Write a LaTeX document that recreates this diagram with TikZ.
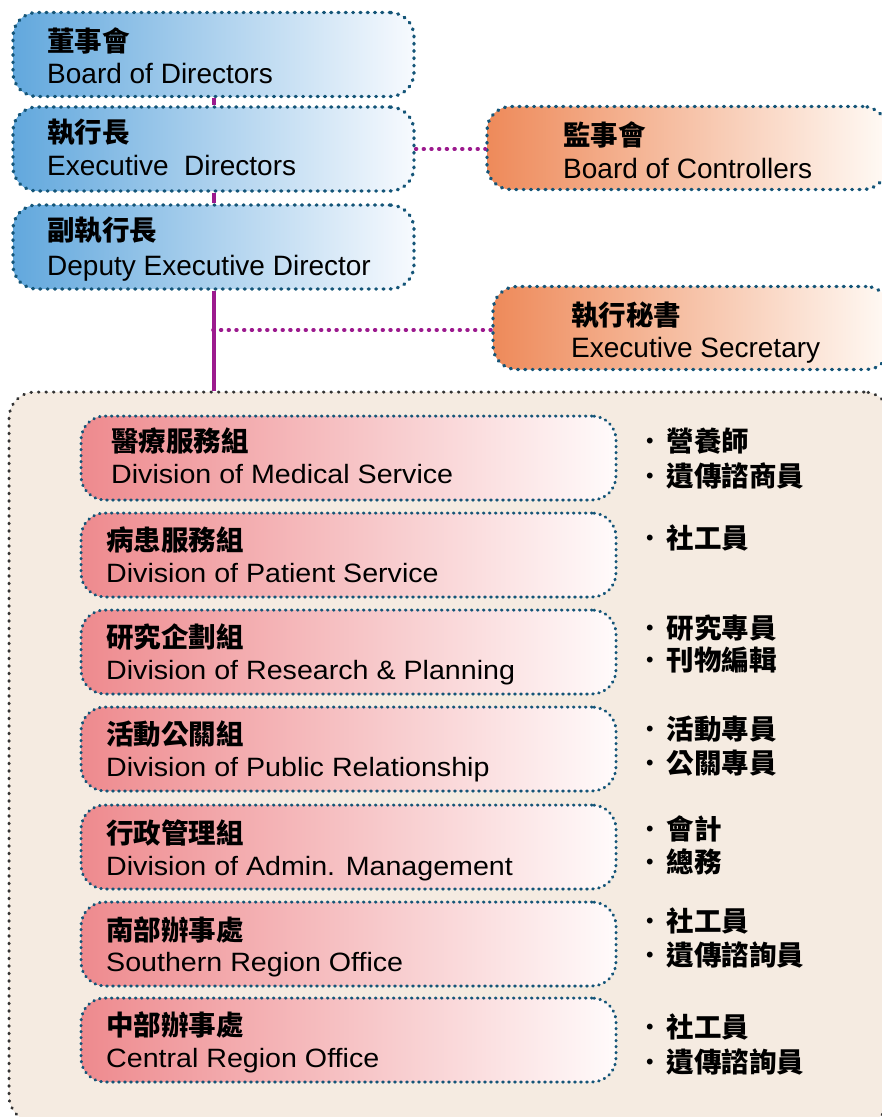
\documentclass[tikz,border=0pt]{standalone}
\usepackage{fontspec}
\setmainfont{Liberation Sans}
\newfontfamily\cjk{Noto Sans CJK TC}
\newfontfamily\enw{Liberation Sans}[FakeStretch=1.08]
\definecolor{dotblue}{HTML}{145578}
\definecolor{dotgray}{HTML}{333333}
\definecolor{blueL}{HTML}{62A8DD}
\definecolor{blueR}{HTML}{F7FAFE}
\definecolor{orangeL}{HTML}{EE8A5A}
\definecolor{orangeR}{HTML}{FFFAF5}
\definecolor{pinkL}{HTML}{EE8A8E}
\definecolor{pinkR}{HTML}{FFFBFB}
\definecolor{beige}{HTML}{F5EBE1}
\definecolor{purp}{HTML}{9C1A8E}
\tikzset{
  dotbox/.style={draw=dotblue, line width=3.4pt, dash pattern=on 0.8pt off 6.5pt, line cap=round, rounded corners=24pt, inner sep=0pt},
  bluebox/.style={dotbox, left color=blueL, right color=blueR, minimum width=401pt, minimum height=84pt},
  orangebox/.style={dotbox, left color=orangeL, right color=orangeR, minimum height=83pt},
  pinkbox/.style={dotbox, line width=3pt, dash pattern=on 0.6pt off 5.4pt, left color=pinkL, right color=pinkR, minimum width=535pt, minimum height=84pt},
  container/.style={draw=dotgray, line width=3pt, dash pattern=on 0.6pt off 6.9pt, line cap=round, rounded corners=26pt, fill=beige, inner sep=0pt},
  zh/.style={font=\cjk\bfseries\fontsize{27.5}{30}\selectfont, anchor=west, inner sep=0pt},
  en/.style={font=\fontsize{28}{30}\selectfont, anchor=base west, inner sep=0pt},
  enp/.style={font=\enw\fontsize{26.5}{30}\selectfont, anchor=base west, inner sep=0pt},
  vline/.style={draw=purp, line width=4pt},
  pdot/.style={draw=purp, line width=3.6pt, dash pattern=on 0.8pt off 6.9pt, line cap=round},
}
\newcommand{\bul}[1]{{\mdseries ・}\kern3pt #1}
\begin{document}
\begin{tikzpicture}[x=1pt,y=-1pt]
\useasboundingbox (0,0) rectangle (882,1117);
\clip (0,0) rectangle (882,1117);
\fill[white] (0,0) rectangle (882,1117);

% container
\node[container, minimum width=881pt, minimum height=730pt] (cont) at (449.5,757) {};

% top boxes
\node[bluebox] (b1) at (213.5,54.5) {};
\node[bluebox] (b2) at (213.5,149) {};
\node[bluebox] (b3) at (213.5,247) {};
\node[orangebox, minimum width=400pt] (o1) at (687,148) {};
\node[orangebox, minimum width=397pt] (o2) at (691.5,328) {};

% connectors
\coordinate (j) at (213,330);
\draw[vline] (b1.south) -- (b2.north);
\draw[vline] (b2.south) -- (b3.north);
\draw[vline] (b3.south) -- (b3.south |- cont.north);
\draw[pdot] (b2.east) -- (b2.east -| o1.west);
\draw[pdot] (j) -- (j -| o2.west);

% top texts
\node[zh] (b1z) at (47,41) {董事會};
\node[en] (b1e) at (47,83) {Board of Directors};
\node[zh] (b2z) at (47,132.5) {執行長};
\node[en] (b2e) at (47,175) {Executive\ \ Directors};
\node[zh] (b3z) at (47,230.5) {副執行長};
\node[en] (b3e) at (47,275) {Deputy Executive Director};
\node[zh] (o1z) at (563,135) {監事會};
\node[en] (o1e) at (563,178) {Board of Controllers};
\node[zh] (o2z) at (571,315) {執行秘書};
\node[en] (o2e) at (571,357) {Executive Secretary};

% division boxes
\node[pinkbox] (d1) at (348.5,458) {};
\node[pinkbox] (d2) at (348.5,555) {};
\node[pinkbox] (d3) at (348.5,652) {};
\node[pinkbox] (d4) at (348.5,749) {};
\node[pinkbox] (d5) at (348.5,847) {};
\node[pinkbox] (d6) at (348.5,944) {};
\node[pinkbox] (d7) at (348.5,1040) {};

\node[zh] (d1z) at (111,441) {醫療服務組};
\node[enp] (d1e) at (111,483) {Division of Medical Service};
\node[zh] (d2z) at (106,540) {病患服務組};
\node[enp] (d2e) at (106,582) {Division of Patient Service};
\node[zh] (d3z) at (106,637) {研究企劃組};
\node[enp] (d3e) at (106,679) {Division of Research \& Planning};
\node[zh] (d4z) at (106,734) {活動公關組};
\node[enp] (d4e) at (106,776) {Division of Public Relationship};
\node[zh] (d5z) at (106,833) {行政管理組};
\node[enp] (d5e) at (106,875) {Division of Admin. Management};
\node[zh] (d6z) at (106,930) {南部辦事處};
\node[enp] (d6e) at (106,971) {Southern Region Office};
\node[zh] (d7z) at (106,1025) {中部辦事處};
\node[enp] (d7e) at (106,1067) {Central Region Office};

% staff lists
\node[zh] (s1a) at (636,441) {\bul{營養師}};
\node[zh] (s1b) at (636,476) {\bul{遺傳諮商員}};
\node[zh] (s2a) at (636,538) {\bul{社工員}};
\node[zh] (s3a) at (636,628) {\bul{研究專員}};
\node[zh] (s3b) at (636,660) {\bul{刊物編輯}};
\node[zh] (s4a) at (636,729) {\bul{活動專員}};
\node[zh] (s4b) at (636,763) {\bul{公關專員}};
\node[zh] (s5a) at (636,829) {\bul{會計}};
\node[zh] (s5b) at (636,862) {\bul{總務}};
\node[zh] (s6a) at (636,921) {\bul{社工員}};
\node[zh] (s6b) at (636,955) {\bul{遺傳諮詢員}};
\node[zh] (s7a) at (636,1027) {\bul{社工員}};
\node[zh] (s7b) at (636,1062) {\bul{遺傳諮詢員}};
\end{tikzpicture}
\end{document}
